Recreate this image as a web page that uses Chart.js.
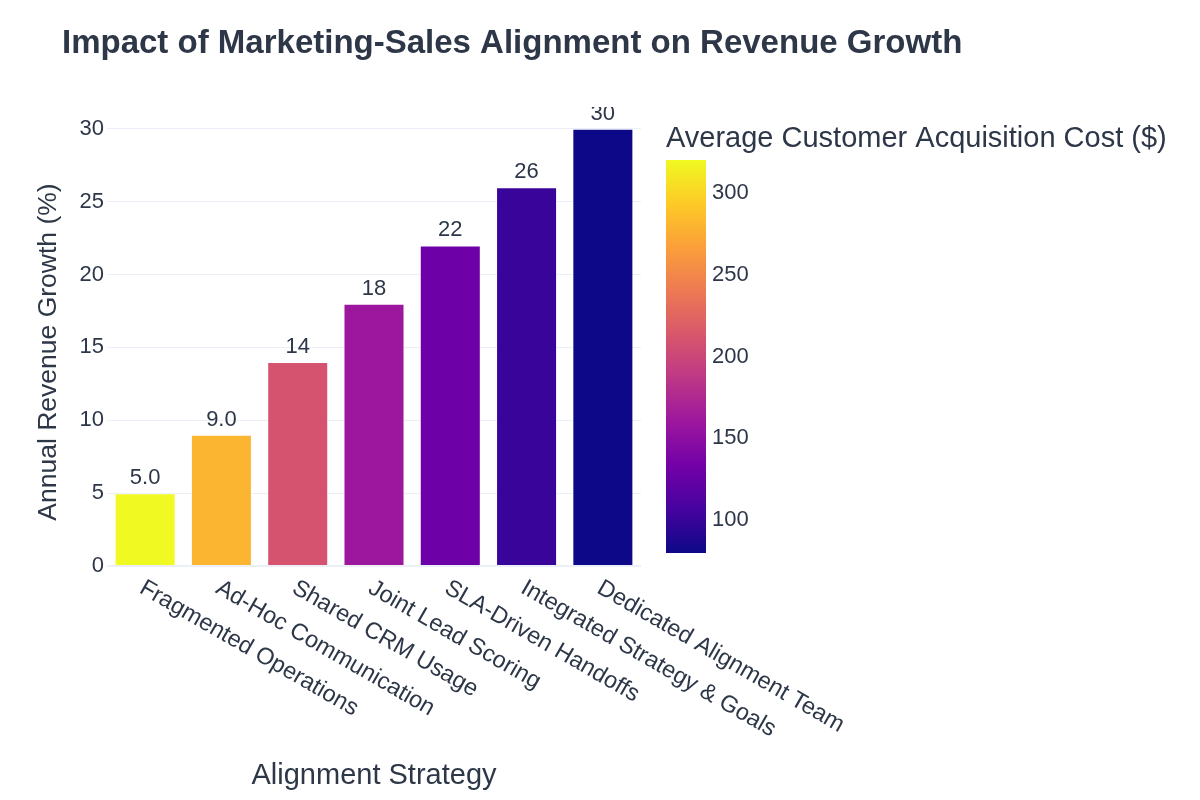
<!DOCTYPE html>
<html>
<head>
<meta charset="utf-8">
<title>Impact of Marketing-Sales Alignment on Revenue Growth</title>
<script src="https://cdn.jsdelivr.net/npm/chart.js@4.4.1/dist/chart.umd.min.js"></script>
<style>
    html, body { margin: 0; padding: 0; background: #ffffff; }
    #wrap { position: relative; width: 1200px; height: 800px; }
</style>
</head>
<body>
<div id="wrap"><canvas id="growthChart" width="1200" height="800"></canvas></div>
<script>
const strategies = ['Fragmented Operations', 'Ad-Hoc Communication', 'Shared CRM Usage', 'Joint Lead Scoring',
    'SLA-Driven Handoffs', 'Integrated Strategy & Goals', 'Dedicated Alignment Team'];
const revenueGrowth = [5, 9, 14, 18, 22, 26, 30];
const acquisitionCost = [320, 280, 210, 160, 130, 100, 80];
const yTicks = [0, 5, 10, 15, 20, 25, 30];
const costTicks = [100, 150, 200, 250, 300];

const TEXT = '#2d3748';
const FONT = '"Liberation Sans", Arial, Helvetica, sans-serif';

// plasma colour scale
const plasma = ['#0d0887', '#46039f', '#7201a8', '#9c179e', '#bd3786', '#d8576b', '#ed7953', '#fb9f3a', '#fdca26', '#f0f921'];
const costMin = Math.min(...acquisitionCost);
const costMax = Math.max(...acquisitionCost);

function hexToRgb(h) {
    return [parseInt(h.slice(1, 3), 16), parseInt(h.slice(3, 5), 16), parseInt(h.slice(5, 7), 16)];
}

function plasmaColor(v) {
    const t = Math.min(1, Math.max(0, (v - costMin) / (costMax - costMin)));
    const pos = t * (plasma.length - 1);
    const i = Math.min(plasma.length - 2, Math.floor(pos));
    const f = pos - i;
    const a = hexToRgb(plasma[i]), b = hexToRgb(plasma[i + 1]);
    const c = a.map((x, k) => Math.round(x + (b[k] - x) * f));
    return `rgb(${c[0]}, ${c[1]}, ${c[2]})`;
}

// titles, rotated x labels, bar values and the colorbar
const extrasPlugin = {
    id: 'extras',
    afterDatasetsDraw(chart) {
        const ctx = chart.ctx;
        const area = chart.chartArea;
        const meta = chart.getDatasetMeta(0);

        // value labels above bars (clipped to plot area like the original)
        ctx.save();
        ctx.beginPath();
        ctx.rect(area.left, area.top, area.right - area.left, area.bottom - area.top);
        ctx.clip();
        ctx.fillStyle = TEXT;
        ctx.font = `22px ${FONT}`;
        ctx.textAlign = 'center';
        ctx.textBaseline = 'alphabetic';
        meta.data.forEach((bar, i) => {
            ctx.fillText(revenueGrowth[i].toPrecision(2), bar.x, bar.y - 9);
        });
        ctx.restore();
    },
    afterDraw(chart) {
        const ctx = chart.ctx;
        const area = chart.chartArea;
        const xScale = chart.scales.x;

        ctx.save();
        ctx.fillStyle = TEXT;

        // main title
        ctx.font = `bold 33px ${FONT}`;
        ctx.textAlign = 'left';
        ctx.textBaseline = 'alphabetic';
        ctx.fillText('Impact of Marketing-Sales Alignment on Revenue Growth', 62, 53);

        // rotated category labels
        ctx.font = `23.5px ${FONT}`;
        strategies.forEach((name, i) => {
            const x = xScale.getPixelForValue(i);
            ctx.save();
            ctx.translate(x - 7, area.bottom + 26);
            ctx.rotate(Math.PI / 6);
            ctx.textAlign = 'left';
            ctx.fillText(name, 0, 0);
            ctx.restore();
        });

        // axis titles
        ctx.font = `29px ${FONT}`;
        ctx.textAlign = 'center';
        ctx.fillText('Alignment Strategy', (area.left + area.right) / 2, 784);

        ctx.save();
        ctx.translate(56, 352);
        ctx.rotate(-Math.PI / 2);
        ctx.font = `26.5px ${FONT}`;
        ctx.fillText('Annual Revenue Growth (%)', 0, 0);
        ctx.restore();

        // colorbar
        const cb = { left: 666, width: 40, top: 160, bottom: 553 };
        const grad = ctx.createLinearGradient(0, cb.bottom, 0, cb.top);
        plasma.forEach((c, i) => grad.addColorStop(i / (plasma.length - 1), c));
        ctx.fillStyle = grad;
        ctx.fillRect(cb.left, cb.top, cb.width, cb.bottom - cb.top);

        ctx.fillStyle = TEXT;
        ctx.font = `22px ${FONT}`;
        ctx.textAlign = 'left';
        ctx.textBaseline = 'middle';
        costTicks.forEach(v => {
            const y = cb.bottom - (v - costMin) / (costMax - costMin) * (cb.bottom - cb.top);
            ctx.fillText(String(v), cb.left + cb.width + 6, y);
        });

        ctx.font = `29px ${FONT}`;
        ctx.textBaseline = 'alphabetic';
        ctx.fillText('Average Customer Acquisition Cost ($)', cb.left, 147);
        ctx.restore();
    }
};

const ctx = document.getElementById('growthChart').getContext('2d');
const growthChart = new Chart(ctx, {
    type: 'bar',
    data: {
        labels: strategies,
        datasets: [{
            label: 'Annual Revenue Growth (%)',
            data: revenueGrowth,
            backgroundColor: acquisitionCost.map(plasmaColor),
            borderColor: 'rgba(255, 255, 255, 0.35)',
            borderWidth: 1,
            barPercentage: 0.8,
            categoryPercentage: 1.0
        }]
    },
    options: {
        responsive: false,
        animation: false,
        devicePixelRatio: 1,
        layout: {
            padding: { left: 0, top: 107, right: 559, bottom: 0 }
        },
        plugins: {
            legend: { display: false },
            title: { display: false },
            tooltip: { enabled: false }
        },
        scales: {
            x: {
                grid: { display: false },
                border: { display: false },
                ticks: { display: false },
                afterFit(scale) { scale.height = 234; }
            },
            y: {
                min: 0,
                max: 31.5,
                afterFit(scale) { scale.width = 107; },
                afterBuildTicks(scale) {
                    scale.ticks = yTicks.map(v => ({ value: v }));
                },
                grid: {
                    color: '#ebf0f8',
                    lineWidth: c => (c.tick && c.tick.value === 0 ? 2 : 1),
                    drawTicks: false
                },
                border: { display: false },
                ticks: {
                    color: TEXT,
                    padding: 3,
                    font: { family: FONT, size: 22 }
                }
            }
        }
    },
    plugins: [extrasPlugin]
});
</script>
</body>
</html>
